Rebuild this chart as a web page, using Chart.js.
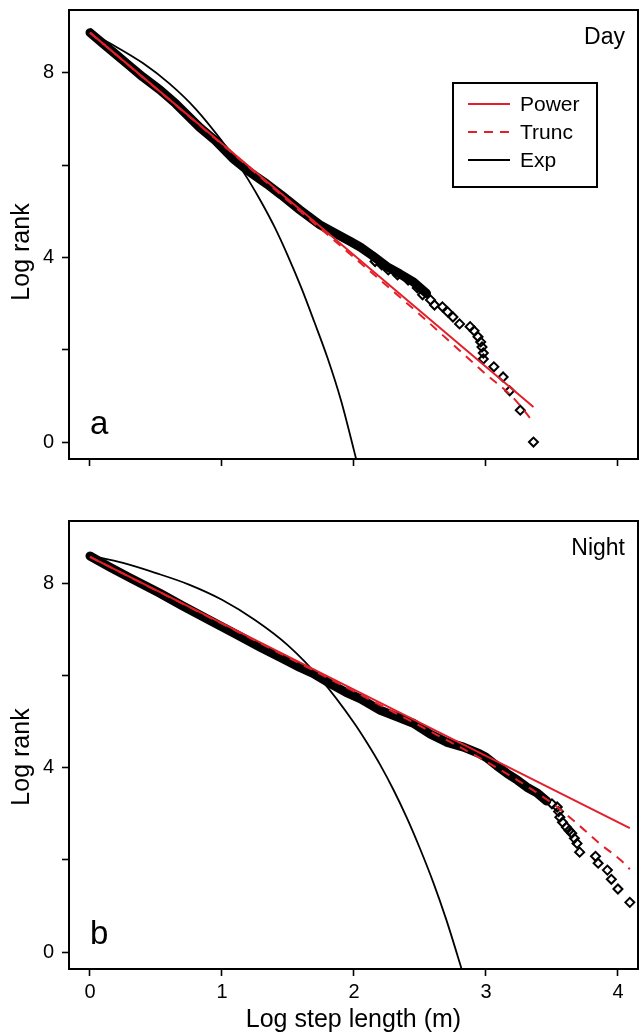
<!DOCTYPE html>
<html lang="en">
<head>
<meta charset="UTF-8">
<title>Log rank vs log step length</title>
<script src="https://cdn.jsdelivr.net/npm/chart.js@4"></script>
<style>
  body { margin: 0; background: #fff; }
  canvas { position: absolute; left: 0; }
</style>
</head>
<body>
<canvas id="dayChart" width="640" height="500" style="top:0"></canvas>
<canvas id="nightChart" width="640" height="535" style="top:500px"></canvas>
<script>
// ---- axes ----
const xTicks = [0, 1, 2, 3, 4];
const yTicks = [0, 2, 4, 6, 8];
const yLabelled = [0, 4, 8];

// ---- Day ----
// observed ranks, dense part (markers overlap into a band)
const dayObsX = [0, 0.1, 0.2, 0.3, 0.4, 0.53, 0.65, 0.83, 0.95, 1.08, 1.2, 1.34, 1.45, 1.59, 1.74, 1.84, 1.97, 2.05, 2.14, 2.25, 2.35, 2.45, 2.55];
const dayObsY = [8.87, 8.63, 8.39, 8.15, 7.91, 7.63, 7.33, 6.82, 6.53, 6.15, 5.87, 5.59, 5.35, 5.03, 4.71, 4.55, 4.35, 4.22, 4.04, 3.80, 3.64, 3.47, 3.22];
// observed ranks, sparse tail
const dayTailX = [2.16, 2.21, 2.26, 2.33, 2.41, 2.48, 2.52, 2.58, 2.61, 2.67, 2.71, 2.75, 2.80, 2.88, 2.91, 2.94, 2.96, 2.97, 2.98, 2.98, 3.06, 3.13, 3.18, 3.26, 3.36];
const dayTailY = [3.91, 3.84, 3.73, 3.62, 3.51, 3.34, 3.19, 3.08, 2.97, 2.93, 2.82, 2.71, 2.56, 2.50, 2.41, 2.28, 2.17, 2.06, 1.93, 1.80, 1.63, 1.41, 1.11, 0.69, 0.0];
const dayPowerX = [0, 1.5, 3.36];
const dayPowerY = [8.87, 5.26, 0.76];
const dayTruncX = [0, 1, 2, 2.5, 3.0, 3.2, 3.36];
const dayTruncY = [8.87, 6.45, 4.0, 2.76, 1.47, 0.98, 0.43];
const dayExpX = [0, 0.2, 0.4, 0.6, 0.8, 1.0, 1.1, 1.2, 1.3, 1.4, 1.5, 1.6, 1.7, 1.8, 1.9, 2.0, 2.05];
const dayExpY = [8.87, 8.56, 8.21, 7.77, 7.22, 6.52, 6.12, 5.68, 5.19, 4.65, 4.03, 3.35, 2.60, 1.82, 0.92, -0.18, -0.75];

// ---- Night ----
const nightObsX = [0, 0.15, 0.3, 0.53, 0.7, 0.91, 1.1, 1.29, 1.44, 1.59, 1.69, 1.82, 1.94, 2.05, 2.2, 2.35, 2.45, 2.58, 2.7, 2.83, 2.95, 3.0, 3.08, 3.16, 3.24, 3.31, 3.39, 3.46];
const nightObsY = [8.60, 8.36, 8.13, 7.79, 7.52, 7.20, 6.91, 6.62, 6.40, 6.18, 6.05, 5.83, 5.64, 5.50, 5.25, 5.08, 4.97, 4.73, 4.56, 4.45, 4.31, 4.23, 4.05, 3.88, 3.73, 3.58, 3.45, 3.28];
const nightTailX = [3.50, 3.54, 3.55, 3.56, 3.58, 3.61, 3.63, 3.65, 3.67, 3.69, 3.71, 3.83, 3.85, 3.92, 3.95, 4.0, 4.09];
const nightTailY = [3.22, 3.15, 3.05, 2.93, 2.82, 2.71, 2.64, 2.58, 2.47, 2.36, 2.17, 2.08, 1.93, 1.78, 1.58, 1.37, 1.08];
const nightPowerX = [0, 2, 4.09];
const nightPowerY = [8.58, 5.70, 2.69];
const nightTruncX = [0, 1, 2, 2.5, 3.0, 3.3, 3.54, 3.71, 3.86, 4.02, 4.09];
const nightTruncY = [8.58, 7.13, 5.66, 4.91, 4.14, 3.62, 3.15, 2.74, 2.36, 2.0, 1.80];
const nightExpX = [0, 0.25, 0.5, 0.75, 1.0, 1.25, 1.5, 1.75, 2.0, 2.1, 2.2, 2.3, 2.4, 2.5, 2.6, 2.7, 2.8, 2.85];
const nightExpY = [8.61, 8.45, 8.23, 7.98, 7.65, 7.21, 6.66, 5.92, 4.98, 4.54, 4.06, 3.52, 2.92, 2.25, 1.52, 0.70, -0.22, -0.70];

const RED = "#e3202a";
const FONT = "'Liberation Sans', Arial, Helvetica, sans-serif";
Chart.defaults.font.family = FONT;
Chart.defaults.color = "#000";

function pts(xs, ys) {
    return xs.map((x, i) => ({ x: x, y: ys[i] }));
}

// frame round the plot area, like R's box()
const frameBox = {
    id: "frameBox",
    afterDatasetsDraw(chart) {
        const a = chart.chartArea, ctx = chart.ctx;
        ctx.save();
        ctx.strokeStyle = "#000";
        ctx.lineWidth = 2;
        ctx.strokeRect(a.left, a.top, a.right - a.left, a.bottom - a.top);
        ctx.restore();
    }
};

// y title, corner name, panel letter and (optionally) the legend box
const panelText = {
    id: "panelText",
    afterDraw(chart, args, opts) {
        const ctx = chart.ctx, a = chart.chartArea;
        ctx.save();
        ctx.fillStyle = "#000";

        // y axis title
        ctx.save();
        ctx.translate(22, opts.yTitleY);
        ctx.rotate(-Math.PI / 2);
        ctx.font = "25px " + FONT;
        ctx.textAlign = "center";
        ctx.textBaseline = "middle";
        ctx.fillText("Log rank", 0, 0);
        ctx.restore();

        ctx.font = "23px " + FONT;
        ctx.textAlign = "right";
        ctx.textBaseline = "middle";
        ctx.fillText(opts.name, a.right - 13, a.top + 28);

        ctx.font = "33px " + FONT;
        ctx.textAlign = "left";
        ctx.textBaseline = "alphabetic";
        ctx.fillText(opts.letter, a.left + 21, a.bottom - 25);

        if (opts.legend) {
            const bx = 453, by = 83, bw = 144, bh = 104;
            ctx.lineWidth = 2;
            ctx.strokeStyle = "#000";
            ctx.strokeRect(bx, by, bw, bh);
            const rows = chart.data.datasets.filter(d => d.legendRow !== undefined)
                .sort((p, q) => p.legendRow - q.legendRow);
            ctx.font = "21px " + FONT;
            ctx.textBaseline = "middle";
            rows.forEach((d, i) => {
                const y = by + 21 + i * 28;
                ctx.beginPath();
                ctx.strokeStyle = d.borderColor;
                ctx.lineWidth = 2;
                ctx.setLineDash(d.borderDash || []);
                ctx.moveTo(bx + 15, y);
                ctx.lineTo(bx + 57, y);
                ctx.stroke();
                ctx.setLineDash([]);
                ctx.fillText(d.label, bx + 67, y + 1);
            });
        }
        ctx.restore();
    }
};

function makePanel(id, s) {
    const datasets = [
        {
            label: "Power", legendRow: 0, order: 0,
            data: pts(s.powerX, s.powerY), showLine: true,
            borderColor: RED, borderWidth: 2, pointRadius: 0
        },
        {
            label: "Trunc", legendRow: 1, order: 1,
            data: pts(s.truncX, s.truncY), showLine: true,
            borderColor: RED, borderWidth: 2, borderDash: [9, 7], pointRadius: 0,
            cubicInterpolationMode: "monotone"
        },
        {
            label: "Exp", legendRow: 2, order: 2,
            data: pts(s.expX, s.expY), showLine: true,
            borderColor: "#000", borderWidth: 1.8, pointRadius: 0,
            cubicInterpolationMode: "monotone"
        },
        {
            label: "Observed", order: 4,
            data: pts(s.obsX, s.obsY), showLine: true,
            borderColor: "#000", borderWidth: 9, pointRadius: 0,
            borderCapStyle: "round", borderJoinStyle: "round"
        },
        {
            label: "Observed tail", order: 3,
            data: pts(s.tailX, s.tailY), showLine: false,
            pointStyle: "rectRot", pointRadius: 4.5, pointBorderWidth: 2,
            pointBorderColor: "#000", pointBackgroundColor: "rgba(0,0,0,0)"
        }
    ];

    return new Chart(document.getElementById(id), {
        type: "scatter",
        data: { datasets: datasets },
        options: {
            responsive: false,
            animation: false,
            layout: { autoPadding: false, padding: { top: s.padTop, right: 2, left: 0, bottom: 0 } },
            plugins: {
                legend: { display: false },
                tooltip: { enabled: false },
                panelText: { name: s.name, letter: s.letter, legend: s.legend, yTitleY: s.yTitleY }
            },
            scales: {
                x: {
                    type: "linear", min: -0.159, max: 4.152,
                    afterBuildTicks: sc => { sc.ticks = xTicks.map(v => ({ value: v })); },
                    afterFit: sc => {
                        sc.height = s.xAxisHeight;
                        sc.paddingLeft = 0; sc.paddingRight = 0;
                    },
                    ticks: {
                        font: { size: 20 }, padding: 4, maxRotation: 0,
                        callback: v => s.xLabels ? String(v) : ""
                    },
                    grid: { drawOnChartArea: false, drawTicks: true, tickLength: 7, tickColor: "#000", tickWidth: 1.6 },
                    border: { display: false },
                    title: {
                        display: s.xLabels, text: "Log step length (m)",
                        font: { size: 25 }, padding: { top: 0, bottom: 0 }
                    }
                },
                y: {
                    type: "linear", min: -0.367, max: 9.36,
                    afterBuildTicks: sc => { sc.ticks = yTicks.map(v => ({ value: v })); },
                    afterFit: sc => {
                        sc.width = 69;
                        sc.paddingTop = 0; sc.paddingBottom = 0;
                    },
                    ticks: {
                        font: { size: 20 }, padding: 8,
                        callback: v => yLabelled.includes(v) ? String(v) : ""
                    },
                    grid: { drawOnChartArea: false, drawTicks: true, tickLength: 7, tickColor: "#000", tickWidth: 1.6 },
                    border: { display: false }
                }
            }
        },
        plugins: [frameBox, panelText]
    });
}

makePanel("dayChart", {
    obsX: dayObsX, obsY: dayObsY, tailX: dayTailX, tailY: dayTailY,
    powerX: dayPowerX, powerY: dayPowerY, truncX: dayTruncX, truncY: dayTruncY,
    expX: dayExpX, expY: dayExpY,
    name: "Day", letter: "a", legend: true, xLabels: false,
    padTop: 10, xAxisHeight: 41, yTitleY: 252
});

makePanel("nightChart", {
    obsX: nightObsX, obsY: nightObsY, tailX: nightTailX, tailY: nightTailY,
    powerX: nightPowerX, powerY: nightPowerY, truncX: nightTruncX, truncY: nightTruncY,
    expX: nightExpX, expY: nightExpY,
    name: "Night", letter: "b", legend: false, xLabels: true,
    padTop: 21, xAxisHeight: 66, yTitleY: 257
});
</script>
</body>
</html>
